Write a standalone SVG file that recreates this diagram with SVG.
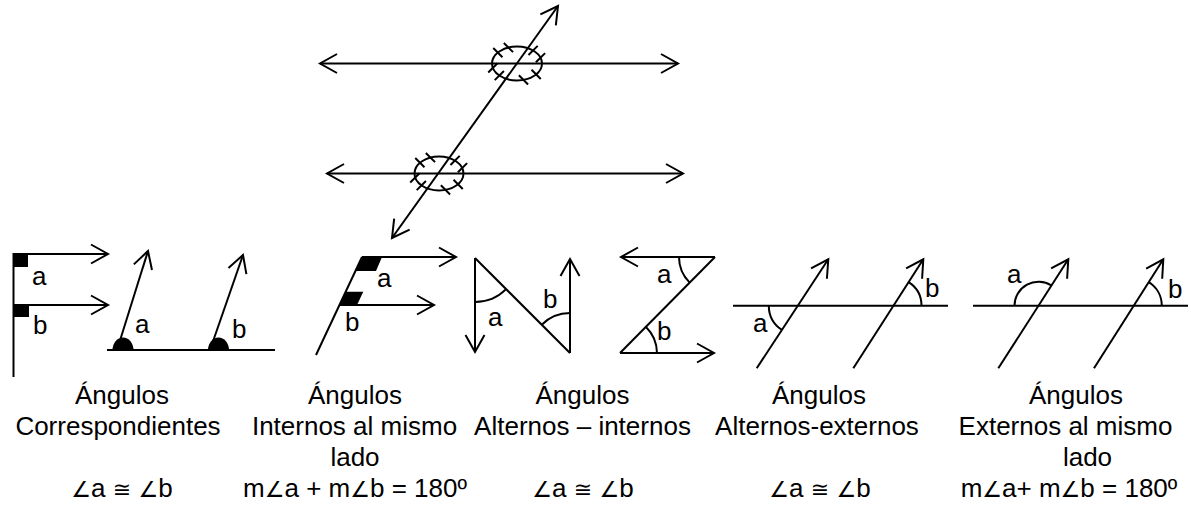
<svg xmlns="http://www.w3.org/2000/svg" width="1191" height="506" viewBox="0 0 1191 506">
<style>
.l{stroke:#000;stroke-width:2;fill:none}
.f{fill:#000;stroke:none}
.t{font-family:"Liberation Sans",Arial,"DejaVu Sans",sans-serif;font-size:26px;fill:#000}
.c{text-anchor:middle}
.s{font-size:22px}
</style>
<defs>
<marker id="ah" markerUnits="userSpaceOnUse" markerWidth="24" markerHeight="24" viewBox="-20 -12 24 24" refX="0" refY="0" orient="auto-start-reverse" overflow="visible">
<path d="M-17,-9.5 L0,0 L-17,9.5" fill="none" stroke="#000" stroke-width="2"/>
</marker>
</defs>
<rect width="1191" height="506" fill="#fff"/>

<g id="main-figure">
<g id="connectors-main">
<line class="l" x1="320" y1="63.5" x2="678" y2="63.5" marker-start="url(#ah)" marker-end="url(#ah)"/>
<line class="l" x1="327" y1="173.5" x2="683" y2="173.5" marker-start="url(#ah)" marker-end="url(#ah)"/>
<line class="l" x1="392" y1="238" x2="558" y2="6" marker-start="url(#ah)" marker-end="url(#ah)"/>
</g>
<g id="upper-intersection">
<ellipse class="l" cx="517" cy="63.5" rx="25" ry="17"/>
<path class="l" d="M503.85,42.92L513.05,52.12M493.25,47.97L502.45,57.17M535.9,62.29L545.1,53.09M528.47,55.08L537.67,45.88M488.25,72.5L497.45,63.3M494.72,80.12L503.92,70.92M518.87,75.32L528.07,84.52M531.55,69.83L540.75,79.03"/>
</g>
<g id="lower-intersection">
<ellipse class="l" cx="439" cy="173.5" rx="24.5" ry="17"/>
<path class="l" d="M425.85,152.92L435.05,162.12M415.25,157.97L424.45,167.17M457.9,172.29L467.1,163.09M450.47,165.08L459.67,155.88M410.25,182.5L419.45,173.3M416.72,190.12L425.92,180.92M440.87,185.32L450.07,194.52M453.55,179.83L462.75,189.03"/>
</g>
</g>

<g id="fig-correspondientes">
<line class="l" x1="13.5" y1="253" x2="13.5" y2="377"/>
<line class="l" x1="13.5" y1="254" x2="108" y2="254" marker-end="url(#ah)"/>
<line class="l" x1="13.5" y1="305" x2="108" y2="305" marker-end="url(#ah)"/>
<rect class="f" x="13" y="254" width="15" height="13"/>
<rect class="f" x="13" y="305" width="16" height="12"/>
<text class="t" x="32" y="285">a</text>
<text class="t" x="33" y="334">b</text>
<line class="l" x1="107" y1="350" x2="275" y2="350"/>
<line class="l" x1="117" y1="350" x2="148" y2="251" marker-end="url(#ah)"/>
<line class="l" x1="210" y1="350" x2="243" y2="255" marker-end="url(#ah)"/>
<path class="f" d="M112.5,350A10.5,12.5 0 0 1 133.5,350Z"/>
<path class="f" d="M208,350A10.5,12.5 0 0 1 229,350Z"/>
<text class="t" x="135" y="333">a</text>
<text class="t" x="232" y="338">b</text>
</g>

<g id="fig-internos">
<line class="l" x1="316" y1="355" x2="362" y2="257"/>
<line class="l" x1="362" y1="257" x2="456" y2="257" marker-end="url(#ah)"/>
<line class="l" x1="340" y1="305" x2="434" y2="305" marker-end="url(#ah)"/>
<path class="f" d="M362,257L382,257L376,271L355.4,271Z"/>
<path class="f" d="M345.7,291.7L363.3,291.7L357,305L339.5,305Z"/>
<text class="t" x="377" y="287">a</text>
<text class="t" x="345" y="331">b</text>
</g>

<g id="fig-alternos-n">
<line class="l" x1="475" y1="258" x2="475" y2="352" marker-end="url(#ah)"/>
<line class="l" x1="475" y1="258" x2="570" y2="353"/>
<line class="l" x1="570" y1="353" x2="570" y2="259" marker-end="url(#ah)"/>
<path class="l" d="M475,302A44,44 0 0 0 506.1,289.1"/>
<path class="l" d="M541.7,324.7A40,40 0 0 1 570,313"/>
<text class="t" x="488" y="326">a</text>
<text class="t" x="543" y="308">b</text>
</g>

<g id="fig-alternos-z">
<line class="l" x1="715" y1="257" x2="621" y2="257" marker-end="url(#ah)"/>
<line class="l" x1="715" y1="257" x2="620" y2="353"/>
<line class="l" x1="620" y1="353" x2="714" y2="353" marker-end="url(#ah)"/>
<path class="l" d="M679,257A36,36 0 0 0 689.7,282.6"/>
<path class="l" d="M646,327A37,37 0 0 1 657,353"/>
<text class="t" x="657" y="283">a</text>
<text class="t" x="657" y="340">b</text>
</g>

<g id="fig-alternos-externos">
<line class="l" x1="733" y1="305.7" x2="948" y2="305.7"/>
<line class="l" x1="756.7" y1="368.3" x2="828.3" y2="259.3" marker-end="url(#ah)"/>
<line class="l" x1="853.3" y1="368.3" x2="923.3" y2="259.3" marker-end="url(#ah)"/>
<path class="l" d="M768.8,305.7A29,29 0 0 0 781.9,329.9"/>
<path class="l" d="M908.6,282.1A28,28 0 0 1 921.5,305.7"/>
<text class="t" x="753" y="332">a</text>
<text class="t" x="925" y="297">b</text>
</g>

<g id="fig-externos">
<line class="l" x1="973" y1="305.7" x2="1188" y2="305.7"/>
<line class="l" x1="998.3" y1="368.3" x2="1068.3" y2="259.3" marker-end="url(#ah)"/>
<line class="l" x1="1094" y1="368.3" x2="1163.3" y2="259.3" marker-end="url(#ah)"/>
<path class="l" d="M1014.5,305.7A24,24 0 0 1 1051.5,285.5"/>
<path class="l" d="M1148.8,282.1A28,28 0 0 1 1161.8,305.7"/>
<text class="t" x="1007" y="283">a</text>
<text class="t" x="1168" y="298">b</text>
</g>

<g id="caption-1">
<text class="t c" x="122" y="404">Ángulos</text>
<text class="t c" x="118" y="435">Correspondientes</text>
<text class="t c" x="122" y="497"><tspan class="s">∠</tspan>a <tspan class="s">≅</tspan> <tspan class="s">∠</tspan>b</text>
</g>
<g id="caption-2">
<text class="t c" x="355" y="404">Ángulos</text>
<text class="t c" x="354.5" y="435">Internos al mismo</text>
<text class="t c" x="355" y="466">lado</text>
<text class="t c" x="355" y="497">m<tspan class="s">∠</tspan>a + m<tspan class="s">∠</tspan>b = 180º</text>
</g>
<g id="caption-3">
<text class="t c" x="582.5" y="404">Ángulos</text>
<text class="t c" x="582.5" y="435">Alternos – internos</text>
<text class="t c" x="583" y="497"><tspan class="s">∠</tspan>a <tspan class="s">≅</tspan> <tspan class="s">∠</tspan>b</text>
</g>
<g id="caption-4">
<text class="t c" x="819" y="404">Ángulos</text>
<text class="t c" x="817" y="435">Alternos-externos</text>
<text class="t c" x="820" y="497"><tspan class="s">∠</tspan>a <tspan class="s">≅</tspan> <tspan class="s">∠</tspan>b</text>
</g>
<g id="caption-5">
<text class="t c" x="1076" y="404">Ángulos</text>
<text class="t c" x="1065.5" y="435">Externos al mismo</text>
<text class="t c" x="1087.5" y="466">lado</text>
<text class="t c" x="1069" y="497">m<tspan class="s">∠</tspan>a+ m<tspan class="s">∠</tspan>b = 180º</text>
</g>
</svg>
